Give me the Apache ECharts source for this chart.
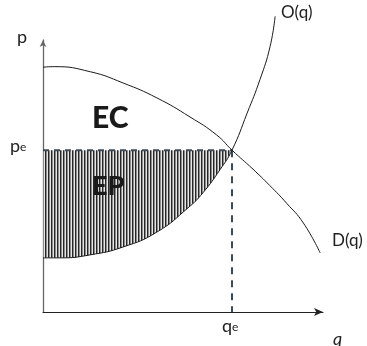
<!DOCTYPE html>
<html>
<head>
<meta charset="utf-8">
<script src="https://cdn.jsdelivr.net/npm/echarts@6/dist/echarts.min.js"></script>
<style>
  html, body { margin: 0; padding: 0; background: #fff; }
  #main { width: 367px; height: 346px; }
</style>
</head>
<body>
<div id="main"></div>
<script>
// equilibrium
var qe = 67.5;
var pe = 59.5;

// demand curve D(q)
var demandQ = [0, 4, 17, 28.6, 40.7, 52.5, 62, 67.5, 75, 81, 87, 93, 99];
var demandP = [90, 90.2, 88.3, 84.2, 78.7, 71.7, 65.1, 59.5, 52.5, 46.5, 40, 32.7, 21.7];

// supply curve O(q)
var supplyQ = [0, 6.1, 16.8, 28.6, 40.7, 51.8, 57.1, 63.2, 67.5, 72.9, 77.5, 81.1, 82.9];
var supplyP = [19.9, 19.9, 21, 23.9, 29.4, 38.3, 43.8, 52.3, 59.5, 73.1, 85.5, 97.6, 108.7];

function pairs(xs, ys) {
  return xs.map(function (x, i) { return [x, ys[i]]; });
}

// part of the supply curve left of qe, for the EP area
var epBase = pairs(supplyQ, supplyP).filter(function (d) { return d[0] <= qe; });

// vertical hatching
var hatch = document.createElement('canvas');
hatch.width = 3;
hatch.height = 4;
var hc = hatch.getContext('2d');
hc.fillStyle = '#e6e6e6'; hc.fillRect(0, 0, 3, 4);
hc.fillStyle = '#262626'; hc.fillRect(0, 0, 1, 4);
hc.fillStyle = '#8c8c8c'; hc.fillRect(1, 0, 1, 4);

var font = 'Lato, "DejaVu Sans", sans-serif';
var sub = function (a, b) {
  return {
    text: '{a|' + a + '}{b|' + b + '}',
    rich: {
      a: { font: '18px ' + font, fill: '#222', lineHeight: 20, verticalAlign: 'bottom' },
      b: { font: '12px ' + font, fill: '#222', lineHeight: 16, verticalAlign: 'bottom', padding: [0, 0, 2, 0] }
    }
  };
};

var myChart = echarts.init(document.getElementById('main'));

myChart.setOption({
  animation: false,
  grid: { left: 43, top: 40, width: 280, height: 272 },
  xAxis: {
    type: 'value', min: 0, max: 100,
    axisLine: { lineStyle: { color: '#222', width: 1 }, symbol: ['none', 'arrow'], symbolSize: [6, 9], onZero: false },
    axisTick: { show: false }, axisLabel: { show: false }, splitLine: { show: false }
  },
  yAxis: {
    type: 'value', min: 0, max: 100,
    axisLine: { show: true, lineStyle: { color: '#666', width: 1.3 }, symbol: ['none', 'arrow'], symbolSize: [5, 7], onZero: false },
    axisTick: { show: false }, axisLabel: { show: false }, splitLine: { show: false }
  },
  series: [
    {
      type: 'line', data: epBase, smooth: true, symbol: 'none',
      lineStyle: { width: 0, opacity: 0 },
      areaStyle: { origin: pe, color: { image: hatch, repeat: 'repeat' }, opacity: 1 }, z: 1
    },
    {
      type: 'line', data: [[0, pe], [qe, pe]], symbol: 'none',
      lineStyle: { color: '#3d4b57', width: 2, type: [6, 5] }, z: 3
    },
    {
      type: 'line', data: [[qe, pe], [qe, 0]], symbol: 'none',
      lineStyle: { color: '#3d4b57', width: 2, type: [7, 6] }, z: 3
    },
    {
      type: 'line', data: pairs(demandQ, demandP), smooth: true, symbol: 'none',
      lineStyle: { color: '#1a1a1a', width: 1 }, z: 4
    },
    {
      type: 'line', data: pairs(supplyQ, supplyP), smooth: true, symbol: 'none', clip: false,
      lineStyle: { color: '#1a1a1a', width: 1 }, z: 4
    }
  ],
  graphic: [
    { type: 'text', z: 20, left: 17, top: 28, style: { text: 'p', font: '18px ' + font, fill: '#222' } },
    { type: 'text', z: 20, left: 10, top: 137, style: sub('p', 'e') },
    { type: 'text', z: 20, left: 222, top: 317, style: sub('q', 'e') },
    { type: 'text', z: 20, left: 333, top: 330, style: { text: 'q', font: 'italic 18px ' + font, fill: '#222' } },
    { type: 'text', z: 20, left: 281, top: 4, style: { text: 'O(q)', font: '17px ' + font, fill: '#222' } },
    { type: 'text', z: 20, left: 332, top: 232, style: { text: 'D(q)', font: '17px ' + font, fill: '#222' } },
    { type: 'text', z: 20, left: 92, top: 103, style: { text: 'EC', font: '900 30px ' + font, fill: '#1a1a1a' } },
    { type: 'text', z: 20, left: 92, top: 173, style: { text: 'EP', font: '900 27px ' + font, fill: '#1a1a1a' } }
  ]
});
</script>
</body>
</html>
